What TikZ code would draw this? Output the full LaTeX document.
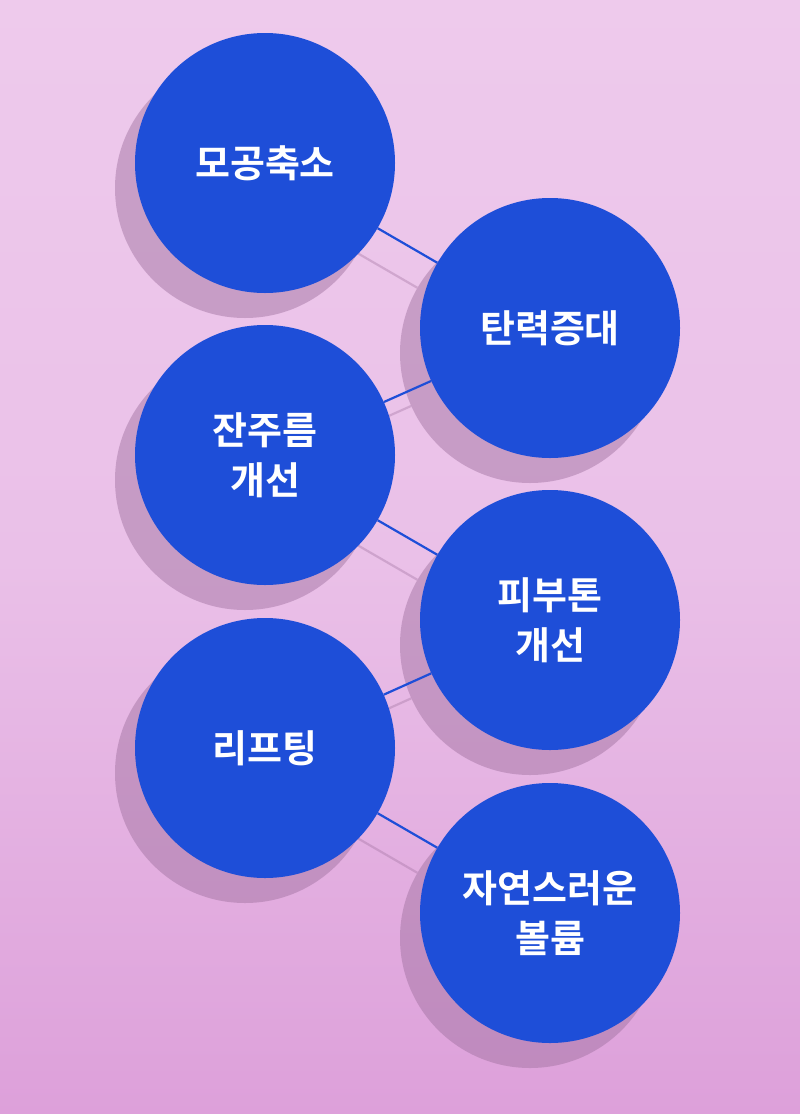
\documentclass[tikz,border=0pt]{standalone}
\usepackage{fontspec}
\newfontfamily\kr{Noto Sans CJK KR}[BoldFont={* Bold}]
\definecolor{bgtop}{HTML}{EECAEC}
\definecolor{bgmid}{HTML}{EAC0E8}
\definecolor{bgbot}{HTML}{DDA0DA}
\definecolor{blu}{HTML}{1E4ED8}
\definecolor{shd}{HTML}{9C6E9C}
\begin{document}
\begin{tikzpicture}[x=1pt,y=-1pt,
  bub/.style={circle,fill=blu,minimum size=260pt,inner sep=0pt,align=center,text=white,font=\kr\bfseries\fontsize{38}{50}\selectfont},
  sh/.style={circle,fill=shd,opacity=0.45,minimum size=260pt,inner sep=0pt},
  link/.style={draw=blu,line width=2.2pt},
  slink/.style={draw=shd,opacity=0.35,line width=2.2pt}]
\useasboundingbox (0,0) rectangle (800,1114);
\shade[top color=bgtop,bottom color=bgmid] (0,0) rectangle (800,560);
\shade[top color=bgmid,bottom color=bgbot] (0,560) rectangle (800,1114);
\foreach \n/\x/\y in {a/265/163,b/550/328,c/265/455,d/550/620,e/265/748,f/550/913}{
  \node[sh] (s\n) at (\x-20,\y+25) {};}
\foreach \p/\q in {a/b,b/c,c/d,d/e,e/f}{\draw[slink] (s\p) -- (s\q);}
\node[bub] (a) at (265,163) {모공축소};
\node[bub] (b) at (550,328) {탄력증대};
\node[bub] (c) at (265,455) {잔주름\\개선};
\node[bub] (d) at (550,620) {피부톤\\개선};
\node[bub] (e) at (265,748) {리프팅};
\node[bub] (f) at (550,913) {자연스러운\\볼륨};
\foreach \p/\q in {a/b,b/c,c/d,d/e,e/f}{\draw[link] (\p) -- (\q);}
\end{tikzpicture}
\end{document}
